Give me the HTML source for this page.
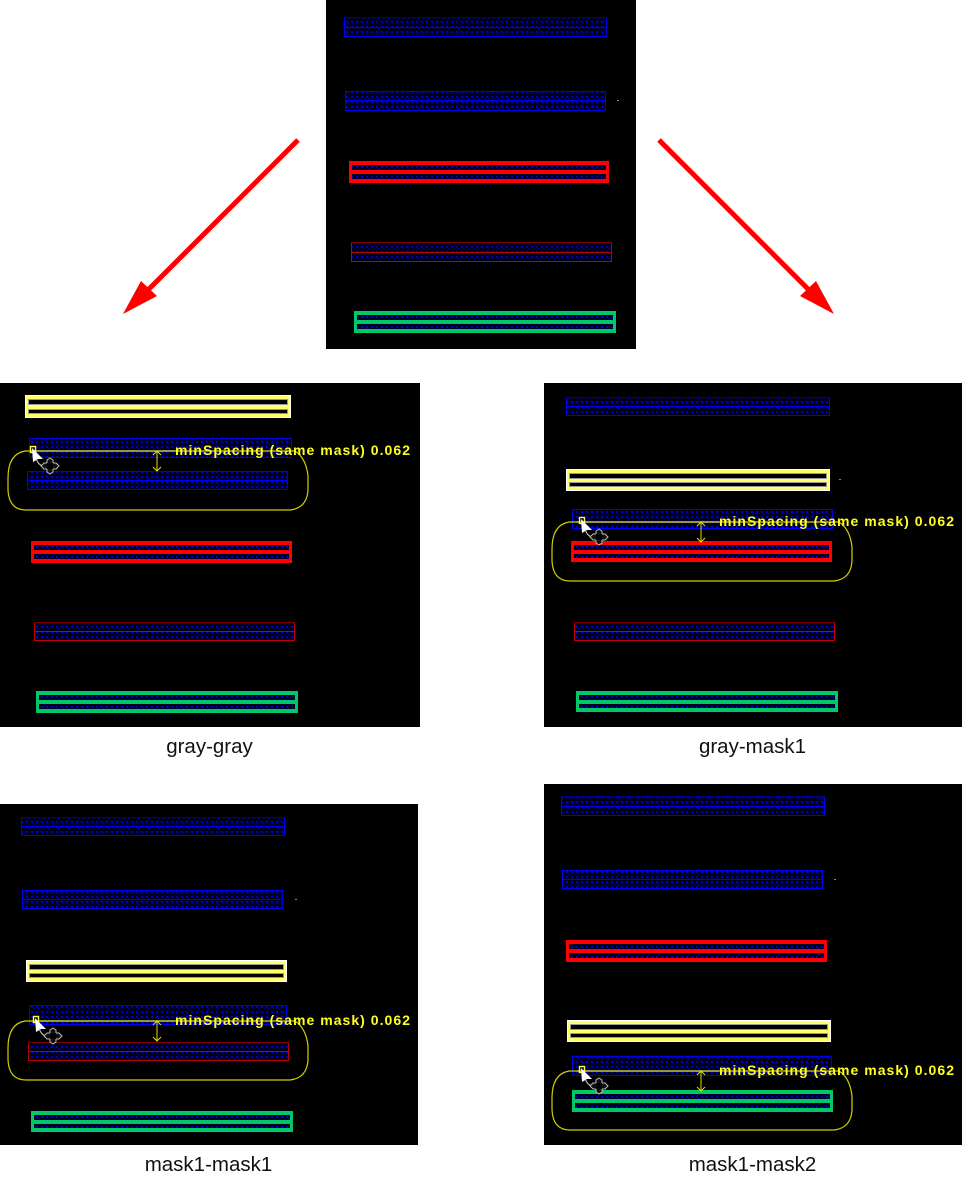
<!DOCTYPE html>
<html>
<head>
<meta charset="utf-8">
<style>
html,body{margin:0;padding:0;background:#fff}
svg{display:block}
.l{font:20.5px "Liberation Sans",sans-serif;fill:#111;text-anchor:middle}
.m{font:bold 14px "Liberation Sans",sans-serif;fill:#ffff20}
.f{fill:url(#h)}
.b{stroke:#0000f0;stroke-width:1;fill:url(#h)}
.d{stroke:#c00000;stroke-width:1;fill:url(#h)}
.k{fill:#000;stroke:#999;stroke-width:1}
.R{fill:#ff0000}.G{fill:#00c868}.W{fill:#fff}.Y{fill:#ffff70}
.e{shape-rendering:crispEdges}
</style>
</head>
<body>
<svg xmlns="http://www.w3.org/2000/svg" width="963" height="1203" viewBox="0 0 963 1203">
<defs>
<pattern id="h" width="5" height="5" patternUnits="userSpaceOnUse">
<rect width="5" height="5" fill="#00001c"/>
<rect x="1" y="1" width="2" height="2" fill="#0000c8"/>
<rect x="3" y="3" width="1" height="1" fill="#0000a0"/>
</pattern>
<g id="ov">
<path d="M33 451 H25 Q8 454 8 478 V490 Q9 510 26 510 H290 Q307 508 308 490 V476 Q306 458 295 451 H175" fill="none" stroke="#d0d000" stroke-width="1.2"/>
<line x1="33" y1="451" x2="175" y2="451" stroke="#c8c840" stroke-width="1.5"/>
<path d="M157 451 V471 M153 455 L157 451 L161 455 M153 467 L157 471 L161 467" fill="none" stroke="#e0e000" stroke-width="1"/>
</g>
<g id="cur">
<rect x="30.500" y="446.500" width="5" height="6" fill="none" stroke="#ffff40" stroke-width="1.4"/>
<path d="M32 448 L43 459 L38 459 L33 462 Z" fill="#fff"/>
<path d="M36 458 Q38 465 43 466" fill="none" stroke="#ddd"/>
<path d="M47 463 V460 L50 458 L53 460 V463 H56 L59 466 L56 469 H53 V472 L50 474 L47 472 V469 H44 L41 466 L44 463 Z" fill="#111" stroke="#bbb" stroke-width="1"/>
<rect x="47" y="463" width="6" height="6" fill="#000"/>
</g>
</defs>
<rect width="963" height="1203" fill="#fff"/>

<!-- top -->
<rect x="326" y="0" width="310" height="349" fill="#000"/>
<g class="e">
<rect class="b" x="344.500" y="17.500" width="262" height="19"/><line x1="345" x2="606" y1="27.500" y2="27.500" stroke="#0000f0"/><line x1="344" x2="607" y1="17.500" y2="17.500" stroke="#000090"/>
<rect class="b" x="345.500" y="91.500" width="260" height="19"/><line x1="346" x2="605" y1="100.500" y2="100.500" stroke="#0000f0"/>
<rect class="R" x="349" y="161" width="260" height="22"/><rect class="f" x="352" y="165" width="254" height="5"/><rect class="f" x="352" y="174" width="254" height="5"/>
<rect class="d" x="351.500" y="242.500" width="260" height="19"/><line x1="352" x2="611" y1="252.500" y2="252.500" stroke="#c00000"/><line x1="351" x2="612" y1="242.500" y2="242.500" stroke="#800000"/>
<rect class="G" x="354" y="311" width="262" height="22"/><rect class="f" x="357" y="315" width="256" height="5"/><rect class="f" x="357" y="324" width="256" height="5"/>
<rect x="617" y="100" width="2" height="1" fill="#8888aa"/>
</g>

<!-- arrows -->
<line x1="298" y1="140" x2="146" y2="292" stroke="#f00" stroke-width="5"/>
<polygon points="123,314 141,281 157,296" fill="#f00"/>
<line x1="659" y1="140" x2="811" y2="292" stroke="#f00" stroke-width="5"/>
<polygon points="834,314 816,281 800,296" fill="#f00"/>

<!-- panel A -->
<rect x="0" y="383" width="420" height="344" fill="#000"/>
<g class="e">
<rect class="W" x="25" y="395" width="266" height="23"/><rect class="Y" x="26" y="396" width="264" height="21"/><rect class="k" x="28.500" y="399.500" width="259" height="5"/><rect class="k" x="28.500" y="409.500" width="259" height="4"/>
<rect class="b" x="29.500" y="438.500" width="262" height="19"/>
<rect class="b" x="27.500" y="471.500" width="260" height="18"/><line x1="28" x2="287" y1="480.500" y2="480.500" stroke="#0000f0"/>
<rect class="R" x="31" y="541" width="261" height="22"/><rect class="f" x="34" y="545" width="255" height="5"/><rect class="f" x="34" y="554" width="255" height="5"/>
<rect class="d" x="34.500" y="622.500" width="260" height="18"/><line x1="35" x2="294" y1="631.500" y2="631.500" stroke="#c00000"/><line x1="34" x2="295" y1="622.500" y2="622.500" stroke="#800000"/>
<rect class="G" x="36" y="691" width="262" height="22"/><rect class="f" x="39" y="695" width="256" height="5"/><rect class="f" x="39" y="704" width="256" height="5"/>
</g>
<use href="#ov"/>
<use href="#cur"/>
<text class="m" x="175" y="455" textLength="235" lengthAdjust="spacing">minSpacing (same mask) 0.062</text>
<text class="l" x="209.500" y="753">gray-gray</text>

<!-- panel B -->
<rect x="544" y="383" width="418" height="344" fill="#000"/>
<g class="e">
<rect class="b" x="566.500" y="397.500" width="263" height="18"/><line x1="567" x2="829" y1="406.500" y2="406.500" stroke="#0000f0"/><line x1="566" x2="830" y1="397.500" y2="397.500" stroke="#000090"/>
<rect class="W" x="566" y="469" width="264" height="22"/><rect class="Y" x="567" y="470" width="262" height="20"/><rect class="k" x="569.500" y="473.500" width="257" height="5"/><rect class="k" x="569.500" y="482.500" width="257" height="4"/>
<rect class="b" x="572.500" y="509.500" width="260" height="19"/>
<rect class="R" x="571" y="541" width="261" height="21"/><rect class="f" x="574" y="545" width="255" height="5"/><rect class="f" x="574" y="554" width="255" height="4"/>
<rect class="d" x="574.500" y="622.500" width="260" height="18"/><line x1="575" x2="834" y1="631.500" y2="631.500" stroke="#c00000"/><line x1="574" x2="835" y1="622.500" y2="622.500" stroke="#800000"/>
<rect class="G" x="576" y="691" width="262" height="21"/><rect class="f" x="579" y="695" width="256" height="5"/><rect class="f" x="579" y="704" width="256" height="4"/>
<rect x="839" y="479" width="2" height="1" fill="#8888aa"/>
</g>
<use href="#ov" transform="translate(544 71)"/>
<use href="#cur" transform="translate(549 71)"/>
<text class="m" x="719" y="526" textLength="235" lengthAdjust="spacing">minSpacing (same mask) 0.062</text>
<text class="l" x="752.500" y="753">gray-mask1</text>

<!-- panel C -->
<rect x="0" y="804" width="418" height="341" fill="#000"/>
<g class="e">
<rect class="b" x="21.500" y="817.500" width="263" height="18"/><line x1="22" x2="284" y1="826.500" y2="826.500" stroke="#0000f0"/><line x1="21" x2="285" y1="817.500" y2="817.500" stroke="#000090"/>
<rect class="b" x="22.500" y="890.500" width="260" height="18"/><line x1="23" x2="282" y1="899.500" y2="899.500" stroke="#0000f0"/>
<rect class="W" x="26" y="960" width="261" height="22"/><rect class="Y" x="27" y="961" width="259" height="20"/><rect class="k" x="29.500" y="964.500" width="254" height="5"/><rect class="k" x="29.500" y="973.500" width="254" height="4"/>
<rect class="b" x="29.500" y="1005.500" width="257" height="19"/>
<rect class="d" x="28.500" y="1042.500" width="260" height="18"/><line x1="29" x2="288" y1="1051.500" y2="1051.500" stroke="#c00000"/><line x1="28" x2="289" y1="1042.500" y2="1042.500" stroke="#800000"/>
<rect class="G" x="31" y="1111" width="262" height="21"/><rect class="f" x="34" y="1115" width="256" height="5"/><rect class="f" x="34" y="1124" width="256" height="4"/>
<rect x="295" y="899" width="2" height="1" fill="#8888aa"/>
</g>
<use href="#ov" transform="translate(0 570)"/>
<use href="#cur" transform="translate(3 570)"/>
<text class="m" x="175" y="1025" textLength="235" lengthAdjust="spacing">minSpacing (same mask) 0.062</text>
<text class="l" x="208.500" y="1171">mask1-mask1</text>

<!-- panel D -->
<rect x="544" y="784" width="418" height="361" fill="#000"/>
<g class="e">
<rect class="b" x="561.500" y="796.500" width="263" height="19"/><line x1="562" x2="824" y1="806.500" y2="806.500" stroke="#0000f0"/><line x1="561" x2="825" y1="796.500" y2="796.500" stroke="#000090"/>
<rect class="b" x="562.500" y="870.500" width="260" height="18"/><line x1="563" x2="822" y1="879.500" y2="879.500" stroke="#0000f0"/>
<rect class="R" x="566" y="940" width="261" height="22"/><rect class="f" x="569" y="944" width="255" height="5"/><rect class="f" x="569" y="953" width="255" height="5"/>
<rect class="W" x="567" y="1020" width="264" height="22"/><rect class="Y" x="568" y="1021" width="262" height="20"/><rect class="k" x="570.500" y="1024.500" width="257" height="5"/><rect class="k" x="570.500" y="1033.500" width="257" height="4"/>
<rect class="b" x="572.500" y="1056.500" width="259" height="19"/>
<rect class="G" x="572" y="1090" width="261" height="22"/><rect class="f" x="575" y="1094" width="255" height="5"/><rect class="f" x="575" y="1103" width="255" height="5"/>
<rect x="834" y="879" width="2" height="1" fill="#8888aa"/>
</g>
<use href="#ov" transform="translate(544 620)"/>
<use href="#cur" transform="translate(549 620)"/>
<text class="m" x="719" y="1075" textLength="235" lengthAdjust="spacing">minSpacing (same mask) 0.062</text>
<text class="l" x="752.500" y="1171">mask1-mask2</text>
</svg>
</body>
</html>
